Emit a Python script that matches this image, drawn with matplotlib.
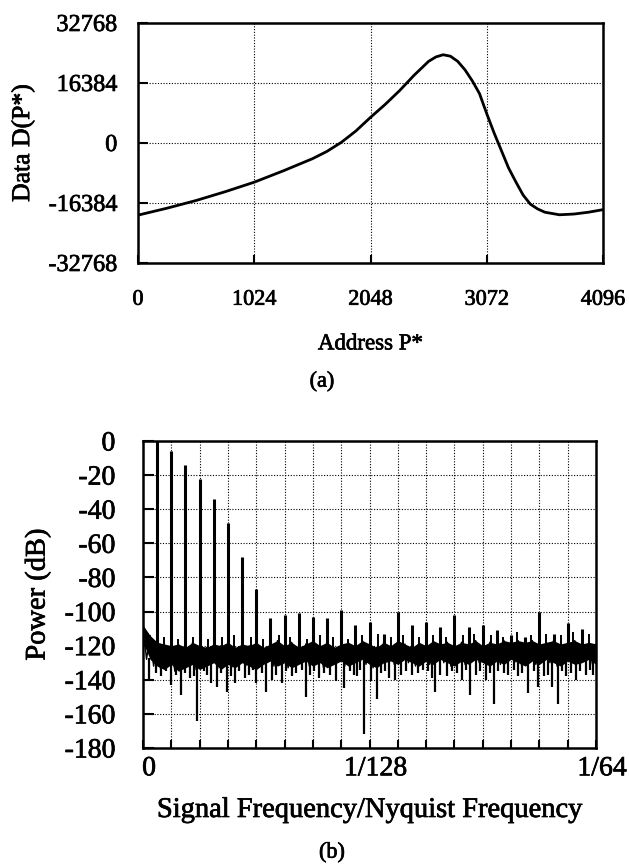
import numpy as np
import matplotlib
matplotlib.use("Agg")
import matplotlib.pyplot as plt
from matplotlib.ticker import FixedLocator
import matplotlib.transforms as mtransforms
import matplotlib.patheffects as pe

plt.rcParams['font.family'] = ['Liberation Serif', 'DejaVu Serif']

# ---------------- (a) data curve ----------------
address = [0, 256, 512, 768, 1024, 1280, 1536, 1664, 1792, 1920, 2048, 2176,
           2304, 2432, 2560, 2624, 2688, 2752, 2816, 2880, 2944, 3008, 3072,
           3136, 3200, 3264, 3328, 3392, 3456, 3520, 3584, 3712, 3840, 3968,
           4096]
data_d = [-19700, -17800, -15700, -13300, -10700, -7600, -4300, -2300, 200,
          3300, 7000, 10500, 14300, 18500, 22300, 23500, 24100, 23700, 22300,
          20000, 17000, 13500, 8000, 2800, -2000, -6800, -10600, -14200,
          -16700, -18000, -18900, -19600, -19400, -18900, -18200]
a_xticks = [0, 1024, 2048, 3072, 4096]
a_yticks = [-32768, -16384, 0, 16384, 32768]

# ---------------- (b) spectrum ----------------
# frequency in units of 1/2048 of Nyquist (bin index)
harm_bins = list(range(1, 32))
harm_db = [0, -6, -14, -22, -34, -48, -68, -87, -104, -102, -101, -103,
           -104, -99, -108, -106, -113, -100, -108, -106, -109, -102, -109,
           -108, -111, -114, -115, -100, -113, -107, -110]
noise_upper = [-108, -114, -118, -119, -120, -119, -121, -118, -120, -121,
               -119, -120, -118, -121, -119, -120, -118, -121, -119, -117,
               -120, -118, -121, -119, -117, -120, -118, -121, -119, -118,
               -120, -117, -119, -121, -118, -120, -117, -119, -121, -118,
               -120, -117, -119, -118, -120, -118, -119, -117, -120, -118,
               -119, -117, -118, -117, -118, -117, -119, -118, -117, -119,
               -118, -117, -119, -118, -119]
noise_lower = [-118, -128, -132, -134, -131, -135, -133, -131, -134, -132,
               -130, -134, -131, -133, -130, -132, -134, -131, -129, -132,
               -130, -133, -131, -129, -132, -130, -133, -131, -129, -132,
               -130, -128, -131, -133, -130, -129, -131, -128, -130, -132,
               -129, -131, -128, -130, -132, -129, -131, -128, -130, -132,
               -129, -131, -128, -130, -132, -129, -131, -128, -130, -132,
               -129, -131, -130, -128, -131]
dip_bins = [0.4, 2.0, 2.7, 3.3, 3.8, 4.8, 5.2, 5.9, 6.5, 7.2, 8.0, 8.7, 9.1,
            9.8, 10.5, 11.5, 12.4, 13.2, 13.6, 14.2, 15.1, 15.6, 16.1, 16.5,
            17.4, 17.8, 19.0, 20.4, 20.6, 21.5, 22.5, 23.1, 24.2, 24.8, 25.5,
            26.5, 27.2, 27.9, 28.3, 28.9, 29.3, 29.9, 30.6, 31.3, 31.8]
dip_db = [-141, -143, -149, -139, -164, -142, -144, -147, -142, -139, -142,
          -147, -140, -142, -138, -150, -139, -137, -141, -145, -138, -172,
          -141, -151, -139, -140, -137, -139, -147, -138, -140, -149, -140,
          -154, -136, -138, -148, -144, -138, -144, -154, -138, -140, -137,
          -137]
short_dip_bins = [0.9, 1.3, 1.6, 2.3, 3.0, 3.6, 4.3, 4.5, 5.5, 6.2, 6.8, 7.5,
                  7.8, 8.4, 9.4, 10.1, 10.8, 11.2, 11.8, 12.1, 12.8, 14.6,
                  14.9, 15.3, 16.8, 17.1, 18.2, 18.6, 19.4, 19.8, 20.1, 21.0,
                  21.8, 22.2, 22.8, 23.5, 23.8, 24.5, 25.1, 25.8, 26.2, 26.8,
                  27.6, 28.6, 29.6, 30.2, 30.9, 31.6]
short_dip_db = [-136, -138, -135, -137, -136, -138, -135, -137, -136, -138,
                -135, -137, -134, -136, -137, -135, -136, -134, -137, -135,
                -136, -135, -137, -134, -136, -135, -137, -135, -136, -134,
                -135, -137, -135, -136, -134, -137, -135, -136, -135, -137,
                -134, -136, -135, -137, -135, -136, -135, -134]
up_bins = [1.5, 2.5, 3.5, 4.6, 5.6, 6.4, 7.6, 8.5, 9.6, 10.4, 11.6, 12.5,
           13.4, 14.5, 15.5, 16.6, 17.5, 18.4, 19.5, 20.5, 21.4, 22.6, 23.4,
           24.6, 25.4, 26.4, 27.4, 28.5, 29.5, 30.4, 31.5]
up_db = [-115, -116, -115, -116, -115, -114, -115, -116, -114, -115, -116,
         -114, -115, -116, -114, -113, -115, -114, -115, -114, -115, -114,
         -113, -114, -115, -112, -114, -113, -114, -112, -113]
b_yticks = [0, -20, -40, -60, -80, -100, -120, -140, -160, -180]
b_xtick_bins = [0, 16, 32]
b_xtick_labels = ['0', '1/128', '1/64']

heavy = [pe.withStroke(linewidth=0.5, foreground='black')]

fig = plt.figure(figsize=(6.29, 8.65), dpi=100)

# ---------- top axes ----------
ax1 = fig.add_axes([138 / 629, 1 - 263 / 865, 465 / 629, 240 / 865])
ax1.plot(address, data_d, color='black', lw=2.0, solid_capstyle='round',
         solid_joinstyle='round')
ax1.set_xlim(0, 4096)
ax1.set_ylim(-32768, 32768)
ax1.set_xticks(a_xticks)
ax1.set_yticks(a_yticks)
ax1.set_xticklabels([str(v) for v in a_xticks], fontsize=16)
ax1.set_yticklabels([str(v) for v in a_yticks], fontsize=17.5)
ax1.tick_params(axis='x', direction='in', length=6, width=1.5, pad=20)
ax1.tick_params(axis='y', direction='in', length=7, width=1.5, pad=15)
ax1.grid(True, color='black', linestyle=(0, (1, 1.5)), linewidth=0.8)
for s in ax1.spines.values():
    s.set_linewidth(1.8)
ax1.set_ylabel('Data D(P*)', fontsize=18.5, labelpad=10)
ax1.set_xlabel('Address P*', fontsize=16.5, labelpad=17)
for t in ax1.get_xticklabels() + ax1.get_yticklabels():
    t.set_path_effects(heavy)
ax1.yaxis.label.set_path_effects(heavy)
ax1.xaxis.label.set_path_effects(heavy)
fig.text(322 / 629, 1 - 382 / 865, '(a)', ha='center', va='center',
         fontsize=16, path_effects=heavy)

# ---------- bottom axes ----------
ax2 = fig.add_axes([143 / 629, 1 - 748 / 865, 453 / 629, 307 / 865])
nb = np.linspace(0, 32, len(noise_upper))
ax2.fill_between(nb, noise_lower, noise_upper, color='black', lw=0)
zx = np.empty(2 * len(nb) - 1)
zy = np.empty(2 * len(nb) - 1)
zx[0::2] = nb
zy[0::2] = noise_upper
zx[1::2] = (nb[:-1] + nb[1:]) / 2
zy[1::2] = noise_lower[1:]
ax2.plot(zx, zy, color='black', lw=1.0)
ax2.vlines(short_dip_bins, -127, short_dip_db, color='black', lw=1.6)
ax2.vlines(dip_bins, -127, dip_db, color='black', lw=1.6)
ax2.vlines(up_bins, -122, up_db, color='black', lw=1.4)
ax2.vlines(harm_bins, -122, harm_db, color='black', lw=2.2)
ax2.set_xlim(0, 32)
ax2.set_ylim(-180, 0)
ax2.xaxis.set_major_locator(FixedLocator(b_xtick_bins))
ax2.set_xticklabels(b_xtick_labels, fontsize=20)
ax2.xaxis.set_minor_locator(FixedLocator(list(range(2, 32, 2))))
ax2.set_yticks(b_yticks)
ax2.set_yticklabels([str(v) for v in b_yticks], fontsize=20)
ax2.tick_params(axis='x', which='both', direction='in', length=6, width=1.5, pad=6)
ax2.tick_params(axis='y', direction='in', length=8, width=1.5, pad=20)
ax2.grid(True, which='both', color='black', linestyle=(0, (1, 1.5)), linewidth=0.8)
for s in ax2.spines.values():
    s.set_linewidth(1.8)
offset = mtransforms.ScaledTranslation(6 / 100, 0, fig.dpi_scale_trans)
for lab in ax2.get_xticklabels():
    lab.set_transform(lab.get_transform() + offset)
ax2.set_ylabel('Power (dB)', fontsize=20.5, labelpad=10)
ax2.set_xlabel('Signal Frequency/Nyquist Frequency', fontsize=20.5, labelpad=12)
for t in ax2.get_xticklabels() + ax2.get_yticklabels():
    t.set_path_effects(heavy)
ax2.yaxis.label.set_path_effects(heavy)
ax2.xaxis.label.set_path_effects(heavy)
fig.text(332 / 629, 1 - 853 / 865, '(b)', ha='center', va='center',
         fontsize=16, path_effects=heavy)

fig.savefig('out.png', dpi=100)
